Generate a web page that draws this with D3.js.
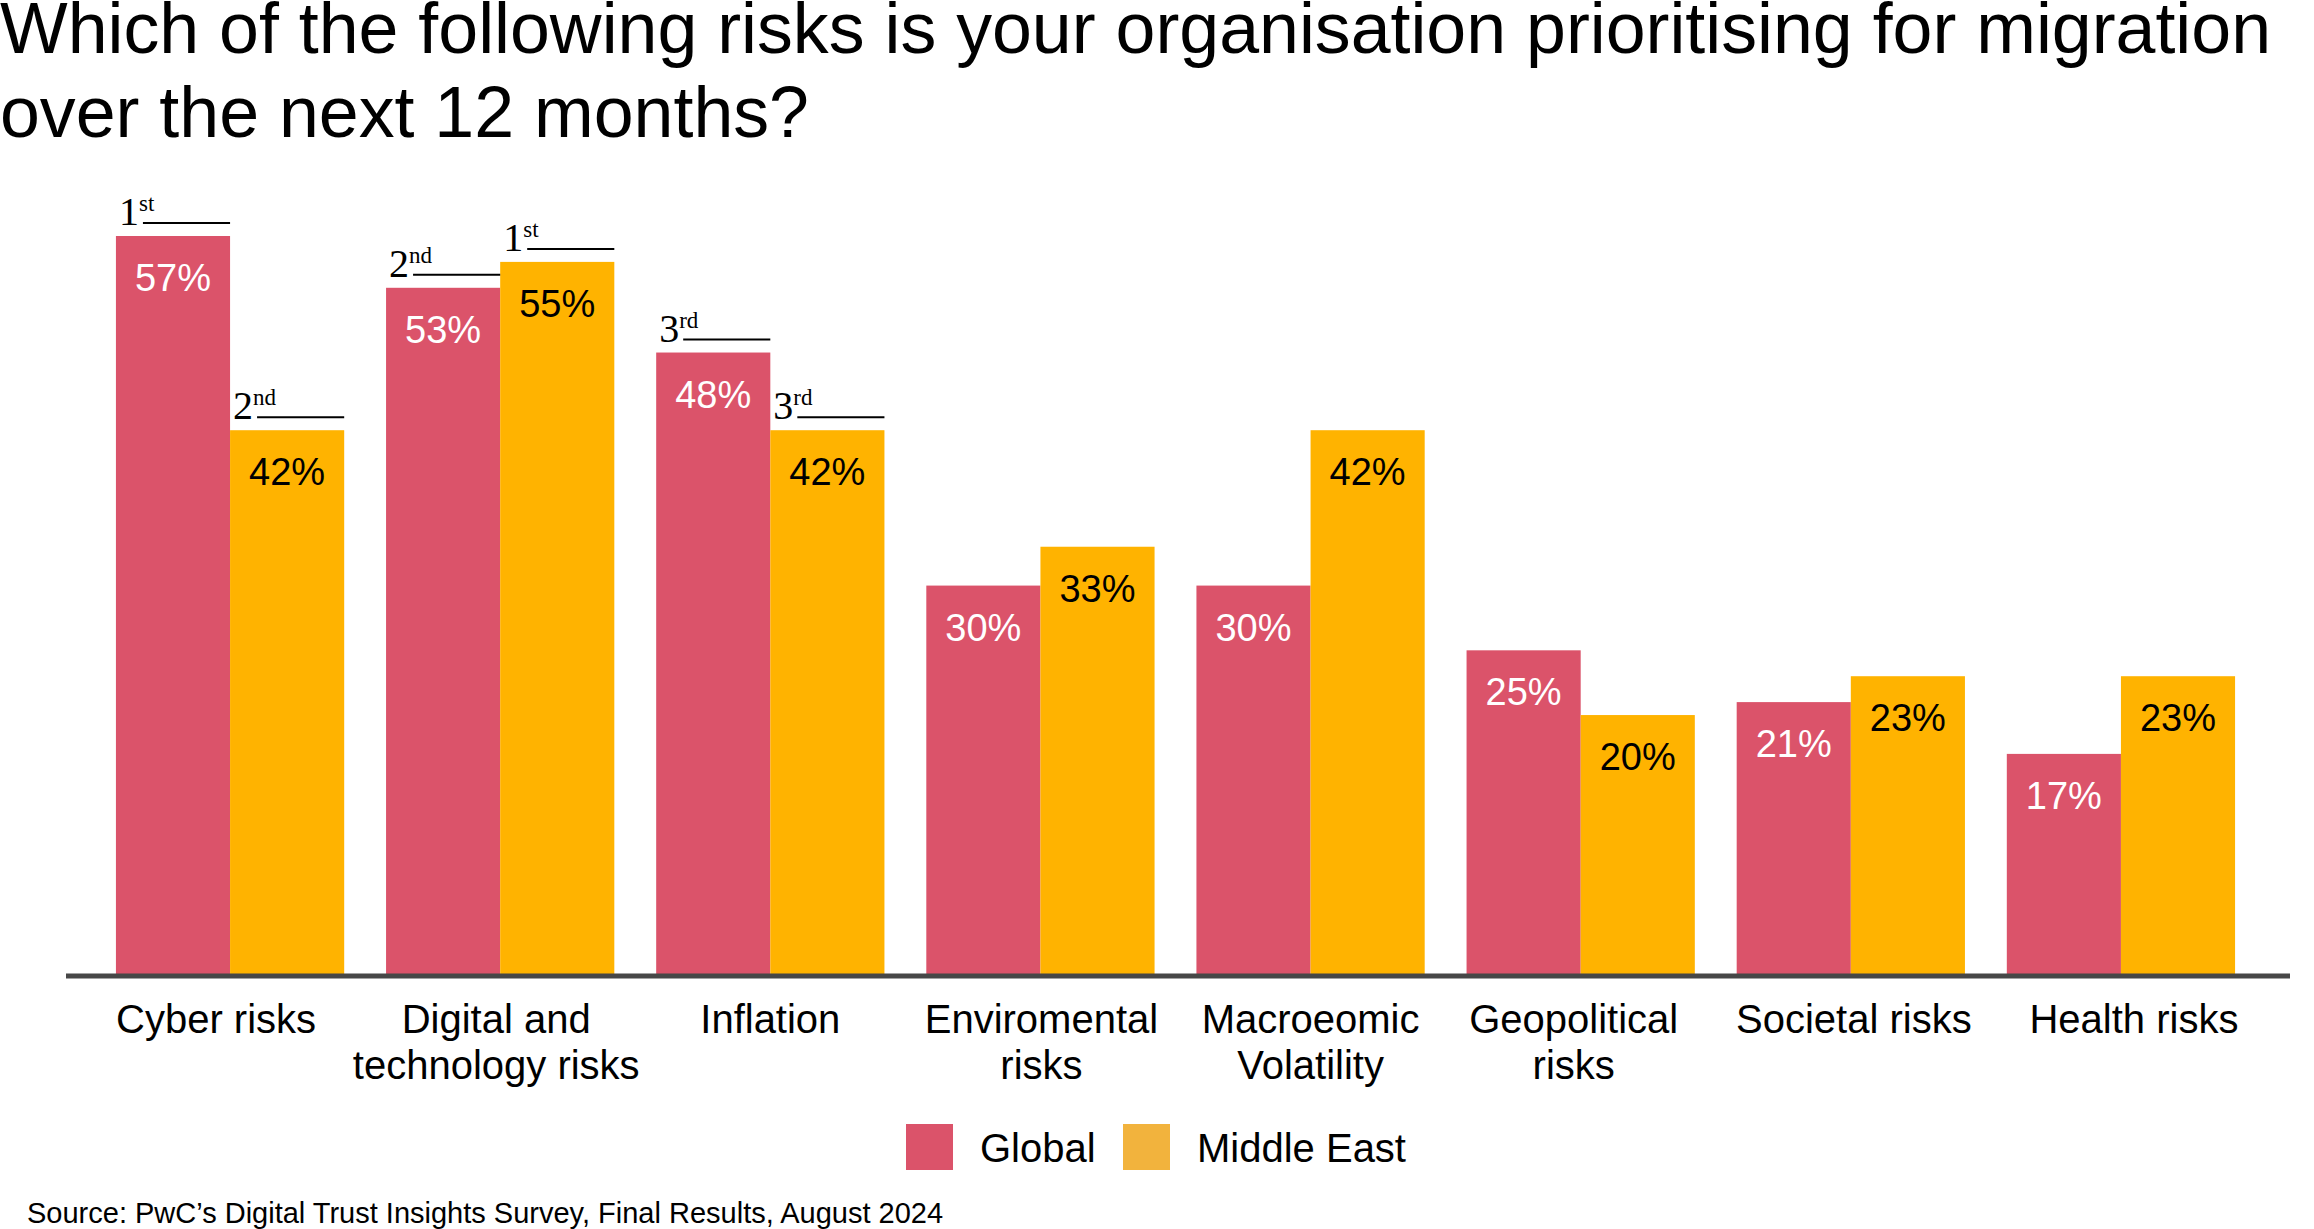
<!DOCTYPE html>
<html>
<head>
<meta charset="utf-8">
<script src="https://cdn.jsdelivr.net/npm/d3@7"></script>
<style>
  body { margin: 0; background: #fff; }
  text { font-family: "Liberation Sans", Arial, sans-serif; }
</style>
</head>
<body>
<svg id="chart" width="2314" height="1229"></svg>
<script>
// data
var categories = ["Cyber risks", "Digital and\ntechnology risks", "Inflation", "Enviromental\nrisks",
                  "Macroeomic\nVolatility", "Geopolitical\nrisks", "Societal risks", "Health risks"];
var seriesNames = ["Global", "Middle East"];
var globalValues = [57, 53, 48, 30, 30, 25, 21, 17];
var middleEastValues = [42, 55, 42, 33, 42, 20, 23, 23];
// ranking badges (0 = none)
var globalRank = [1, 2, 3, 0, 0, 0, 0, 0];
var middleEastRank = [2, 1, 3, 0, 0, 0, 0, 0];
var rankSuffix = {1: "st", 2: "nd", 3: "rd"};

// layout tweaks: the source labels are not quite centred under their groups
var labelNudge = [-14, -4, 0, 1, 0, -7, 3, 13];

var colors = {"Global": "#DB536A", "Middle East": "#FFB300"};
var legendColors = {"Global": "#DB536A", "Middle East": "#F2B33D"};
var labelColors = {"Global": "#fff", "Middle East": "#000"};

var svg = d3.select("#chart"),
    baseline = 976;

var data = categories.map(function(c, i) {
  return {
    cat: c,
    values: [
      {key: "Global", value: globalValues[i], rank: globalRank[i]},
      {key: "Middle East", value: middleEastValues[i], rank: middleEastRank[i]}
    ]
  };
});

var x0 = d3.scaleBand().domain(categories).range([95, 2256])
    .paddingInner(0.155).paddingOuter(0.0775);
var x1 = d3.scaleBand().domain(seriesNames).range([0, x0.bandwidth()]);
var y = d3.scaleLinear().domain([0, 57]).range([974, 236]);

// title
var title = svg.append("text")
    .attr("x", 0)
    .attr("font-size", 71.7)
    .attr("fill", "#000");
title.append("tspan").attr("x", 0).attr("y", 53)
    .text("Which of the following risks is your organisation prioritising for migration");
title.append("tspan").attr("x", 0).attr("y", 137)
    .text("over the next 12 months?");

// bars
var group = svg.selectAll(".group")
    .data(data)
  .enter().append("g")
    .attr("class", "group")
    .attr("transform", function(d) { return "translate(" + x0(d.cat) + ",0)"; });

group.selectAll("rect")
    .data(function(d) { return d.values; })
  .enter().append("rect")
    .attr("x", function(d) { return x1(d.key); })
    .attr("width", x1.bandwidth())
    .attr("y", function(d) { return y(d.value); })
    .attr("height", function(d) { return y(0) - y(d.value); })
    .attr("fill", function(d) { return colors[d.key]; });

// value labels
group.selectAll(".val")
    .data(function(d) { return d.values; })
  .enter().append("text")
    .attr("class", "val")
    .attr("x", function(d) { return x1(d.key) + x1.bandwidth() / 2; })
    .attr("y", function(d) { return y(d.value) + 55; })
    .attr("text-anchor", "middle")
    .attr("font-size", 38)
    .attr("fill", function(d) { return labelColors[d.key]; })
    .text(function(d) { return d.value + "%"; });

// rank badges
var ranked = group.selectAll(".rank")
    .data(function(d) { return d.values.filter(function(v) { return v.rank > 0; }); })
  .enter().append("g")
    .attr("class", "rank");

var rankText = ranked.append("text")
    .attr("x", function(d) { return x1(d.key) + 3; })
    .attr("y", function(d) { return y(d.value) - 11; })
    .style("font-family", "'Liberation Serif', 'Times New Roman', serif")
    .attr("fill", "#000");
rankText.append("tspan")
    .attr("font-size", 40)
    .text(function(d) { return d.rank; });
rankText.append("tspan")
    .attr("font-size", 23)
    .attr("dy", -14)
    .text(function(d) { return rankSuffix[d.rank]; });

ranked.append("line")
    .attr("x1", function(d) { return x1(d.key) + 27; })
    .attr("x2", function(d) { return x1(d.key) + x1.bandwidth(); })
    .attr("y1", function(d) { return y(d.value) - 13; })
    .attr("y2", function(d) { return y(d.value) - 13; })
    .attr("stroke", "#000")
    .attr("stroke-width", 2);

// x axis
var xAxis = svg.append("g")
    .attr("transform", "translate(0," + baseline + ")")
    .call(d3.axisBottom(x0).tickSize(0));
xAxis.select(".domain").remove();
xAxis.selectAll(".tick text")
    .attr("y", 0).attr("dy", null)
    .attr("font-size", 40)
    .attr("font-family", "'Liberation Sans', Arial, sans-serif")
    .attr("fill", "#000")
    .each(function(d, i) {
      var t = d3.select(this);
      t.text(null);
      d.split("\n").forEach(function(line, j) {
        t.append("tspan").attr("x", labelNudge[i]).attr("y", 57 + j * 46).text(line);
      });
    });

svg.append("line")
    .attr("x1", 66).attr("x2", 2290)
    .attr("y1", baseline).attr("y2", baseline)
    .attr("stroke", "#474747")
    .attr("stroke-width", 5);

// legend
var legend = svg.selectAll(".legend")
    .data(seriesNames)
  .enter().append("g")
    .attr("class", "legend")
    .attr("transform", function(d, i) { return "translate(" + [906, 1123][i] + ",1124)"; });
legend.append("rect")
    .attr("width", 47).attr("height", 46)
    .attr("fill", function(d) { return legendColors[d]; });
legend.append("text")
    .attr("x", 74)
    .attr("y", 38)
    .attr("font-size", 40)
    .attr("fill", "#000")
    .text(function(d) { return d; });

// source
svg.append("text")
    .attr("x", 27).attr("y", 1223)
    .attr("font-size", 29)
    .attr("fill", "#000")
    .text("Source: PwC\u2019s Digital Trust Insights Survey, Final Results, August 2024");
</script>
</body>
</html>
